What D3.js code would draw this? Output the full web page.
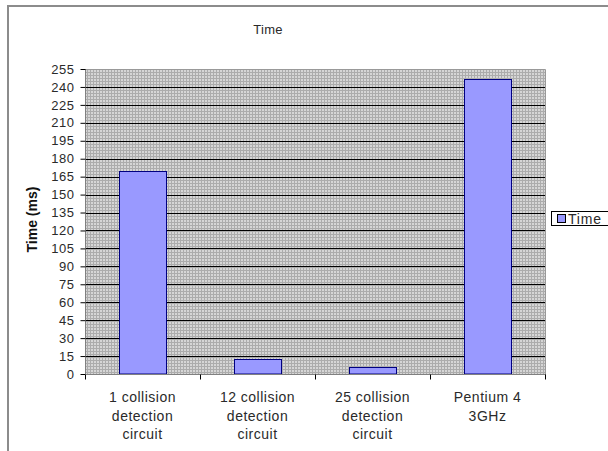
<!DOCTYPE html>
<html><head><meta charset="utf-8">
<script src="https://cdn.jsdelivr.net/npm/d3@7"></script>
<style>body{margin:0;background:#fff;}svg{display:block;font-family:"Liberation Sans",Arial,sans-serif;}</style>
</head><body>
<script>
const categories = [["1 collision","detection","circuit"],["12 collision","detection","circuit"],["25 collision","detection","circuit"],["Pentium 4","3GHz"]];
const values = [170, 12.5, 6, 247];
const yTicks = d3.range(0, 256, 15);
const title = "Time";
const yLabel = "Time (ms)";
const seriesName = "Time";

const W = 608, H = 451;
const svg = d3.select("body").append("svg").attr("width", W).attr("height", H);
const m = {l:85, r:545, t:69, b:374};

// outer border
svg.append("path").attr("d", `M8,${H} L8,6 L${W},6`).attr("fill","none").attr("stroke","#8c8c8c").attr("stroke-width",2);

// pattern
const defs = svg.append("defs");
const pat = defs.append("pattern").attr("id","bgp").attr("width",3).attr("height",3).attr("patternUnits","userSpaceOnUse");
pat.append("rect").attr("width",3).attr("height",3).attr("fill","#d6d6d6");
pat.append("rect").attr("x",0).attr("y",0).attr("width",1).attr("height",3).attr("fill","#acacac");
pat.append("rect").attr("x",0).attr("y",0).attr("width",3).attr("height",1).attr("fill","#acacac");

const x = d3.scaleBand().domain(d3.range(categories.length)).range([m.l, m.r]).paddingInner(0).paddingOuter(0);
const y = d3.scaleLinear().domain([0,255]).range([m.b, m.t]);

svg.append("rect").attr("x",m.l).attr("y",m.t).attr("width",m.r-m.l).attr("height",m.b-m.t).attr("fill","url(#bgp)");

// gridlines
svg.append("g").selectAll("line").data(yTicks.filter(d=>d>0 && d<255)).join("line")
  .attr("x1",m.l).attr("x2",m.r).attr("y1",d=>Math.round(y(d))+0.5).attr("y2",d=>Math.round(y(d))+0.5)
  .attr("stroke","#000").attr("stroke-width",1);

// plot border right/top
svg.append("path").attr("d",`M${m.l},${m.t+0.5} L${m.r+0.5},${m.t+0.5} L${m.r+0.5},${m.b}`).attr("fill","none").attr("stroke","#999").attr("stroke-width",1);

// bars
const bw = 47;
svg.append("g").selectAll("rect").data(values).join("rect")
  .attr("x",(d,i)=>Math.round(x(i)+x.bandwidth()/2-bw/2)+0.5)
  .attr("y",d=>Math.round(y(d))+0.5)
  .attr("width",bw)
  .attr("height",d=>m.b-Math.round(y(d))-0.5)
  .attr("fill","#9999ff").attr("stroke","#000080").attr("stroke-width",1);

// y axis
const yAxis = d3.axisLeft(y).tickValues(yTicks).tickSize(5).tickPadding(6).tickFormat(d3.format("d"));
const gy = svg.append("g").attr("transform",`translate(${m.l+0.5},0)`).call(yAxis);
gy.select(".domain").attr("stroke","#808080").attr("d",`M0,${m.t}V${m.b}`);
gy.selectAll(".tick line").attr("stroke","#000");
gy.selectAll("text").attr("font-size",13).attr("letter-spacing",0.5).attr("fill","#2a2a2a").attr("font-family","Liberation Sans, Arial, sans-serif");

// x axis
const xb = d3.scaleLinear().domain([0,categories.length]).range([m.l,m.r]);
const gx = svg.append("g").attr("transform",`translate(0,${m.b+0.5})`);
gx.append("line").attr("x1",m.l).attr("x2",m.r+1).attr("stroke","#808080");
gx.selectAll("line.t").data(d3.range(categories.length+1)).join("line").attr("class","t")
  .attr("x1",d=>Math.round(xb(d))+0.5).attr("x2",d=>Math.round(xb(d))+0.5).attr("y1",0).attr("y2",5).attr("stroke","#000");
gx.selectAll("text").data(categories).join("text")
  .attr("text-anchor","middle").attr("font-size",14).attr("letter-spacing",0.5).attr("fill","#2a2a2a")
  .attr("transform",(d,i)=>`translate(${x(i)+x.bandwidth()/2},0)`)
  .each(function(d){
    d3.select(this).selectAll("tspan").data(d).join("tspan").attr("x",0).attr("y",(t,j)=>27.5+j*18.5).text(t=>t);
  });

// title
svg.append("text").attr("x",268).attr("y",34).attr("text-anchor","middle").attr("font-size",13).attr("letter-spacing",0.3).attr("fill","#2a2a2a").text(title);

// y label
svg.append("text").attr("transform",`translate(36.5,${(m.t+m.b)/2 - 2}) rotate(-90)`).attr("text-anchor","middle")
  .attr("font-size",14).attr("font-weight","bold").attr("fill","#111").text(yLabel);

// legend
const lg = svg.append("g");
lg.append("rect").attr("x",551.5).attr("y",211.5).attr("width",70).attr("height",14).attr("fill","#fff").attr("stroke","#000");
lg.append("rect").attr("x",557.5).attr("y",214.5).attr("width",8).attr("height",8).attr("fill","#9999ff").attr("stroke","#000");
lg.append("text").attr("x",568).attr("y",223.5).attr("font-size",14).attr("letter-spacing",0.8).attr("fill","#2a2a2a").text(seriesName);
</script>
</body></html>
